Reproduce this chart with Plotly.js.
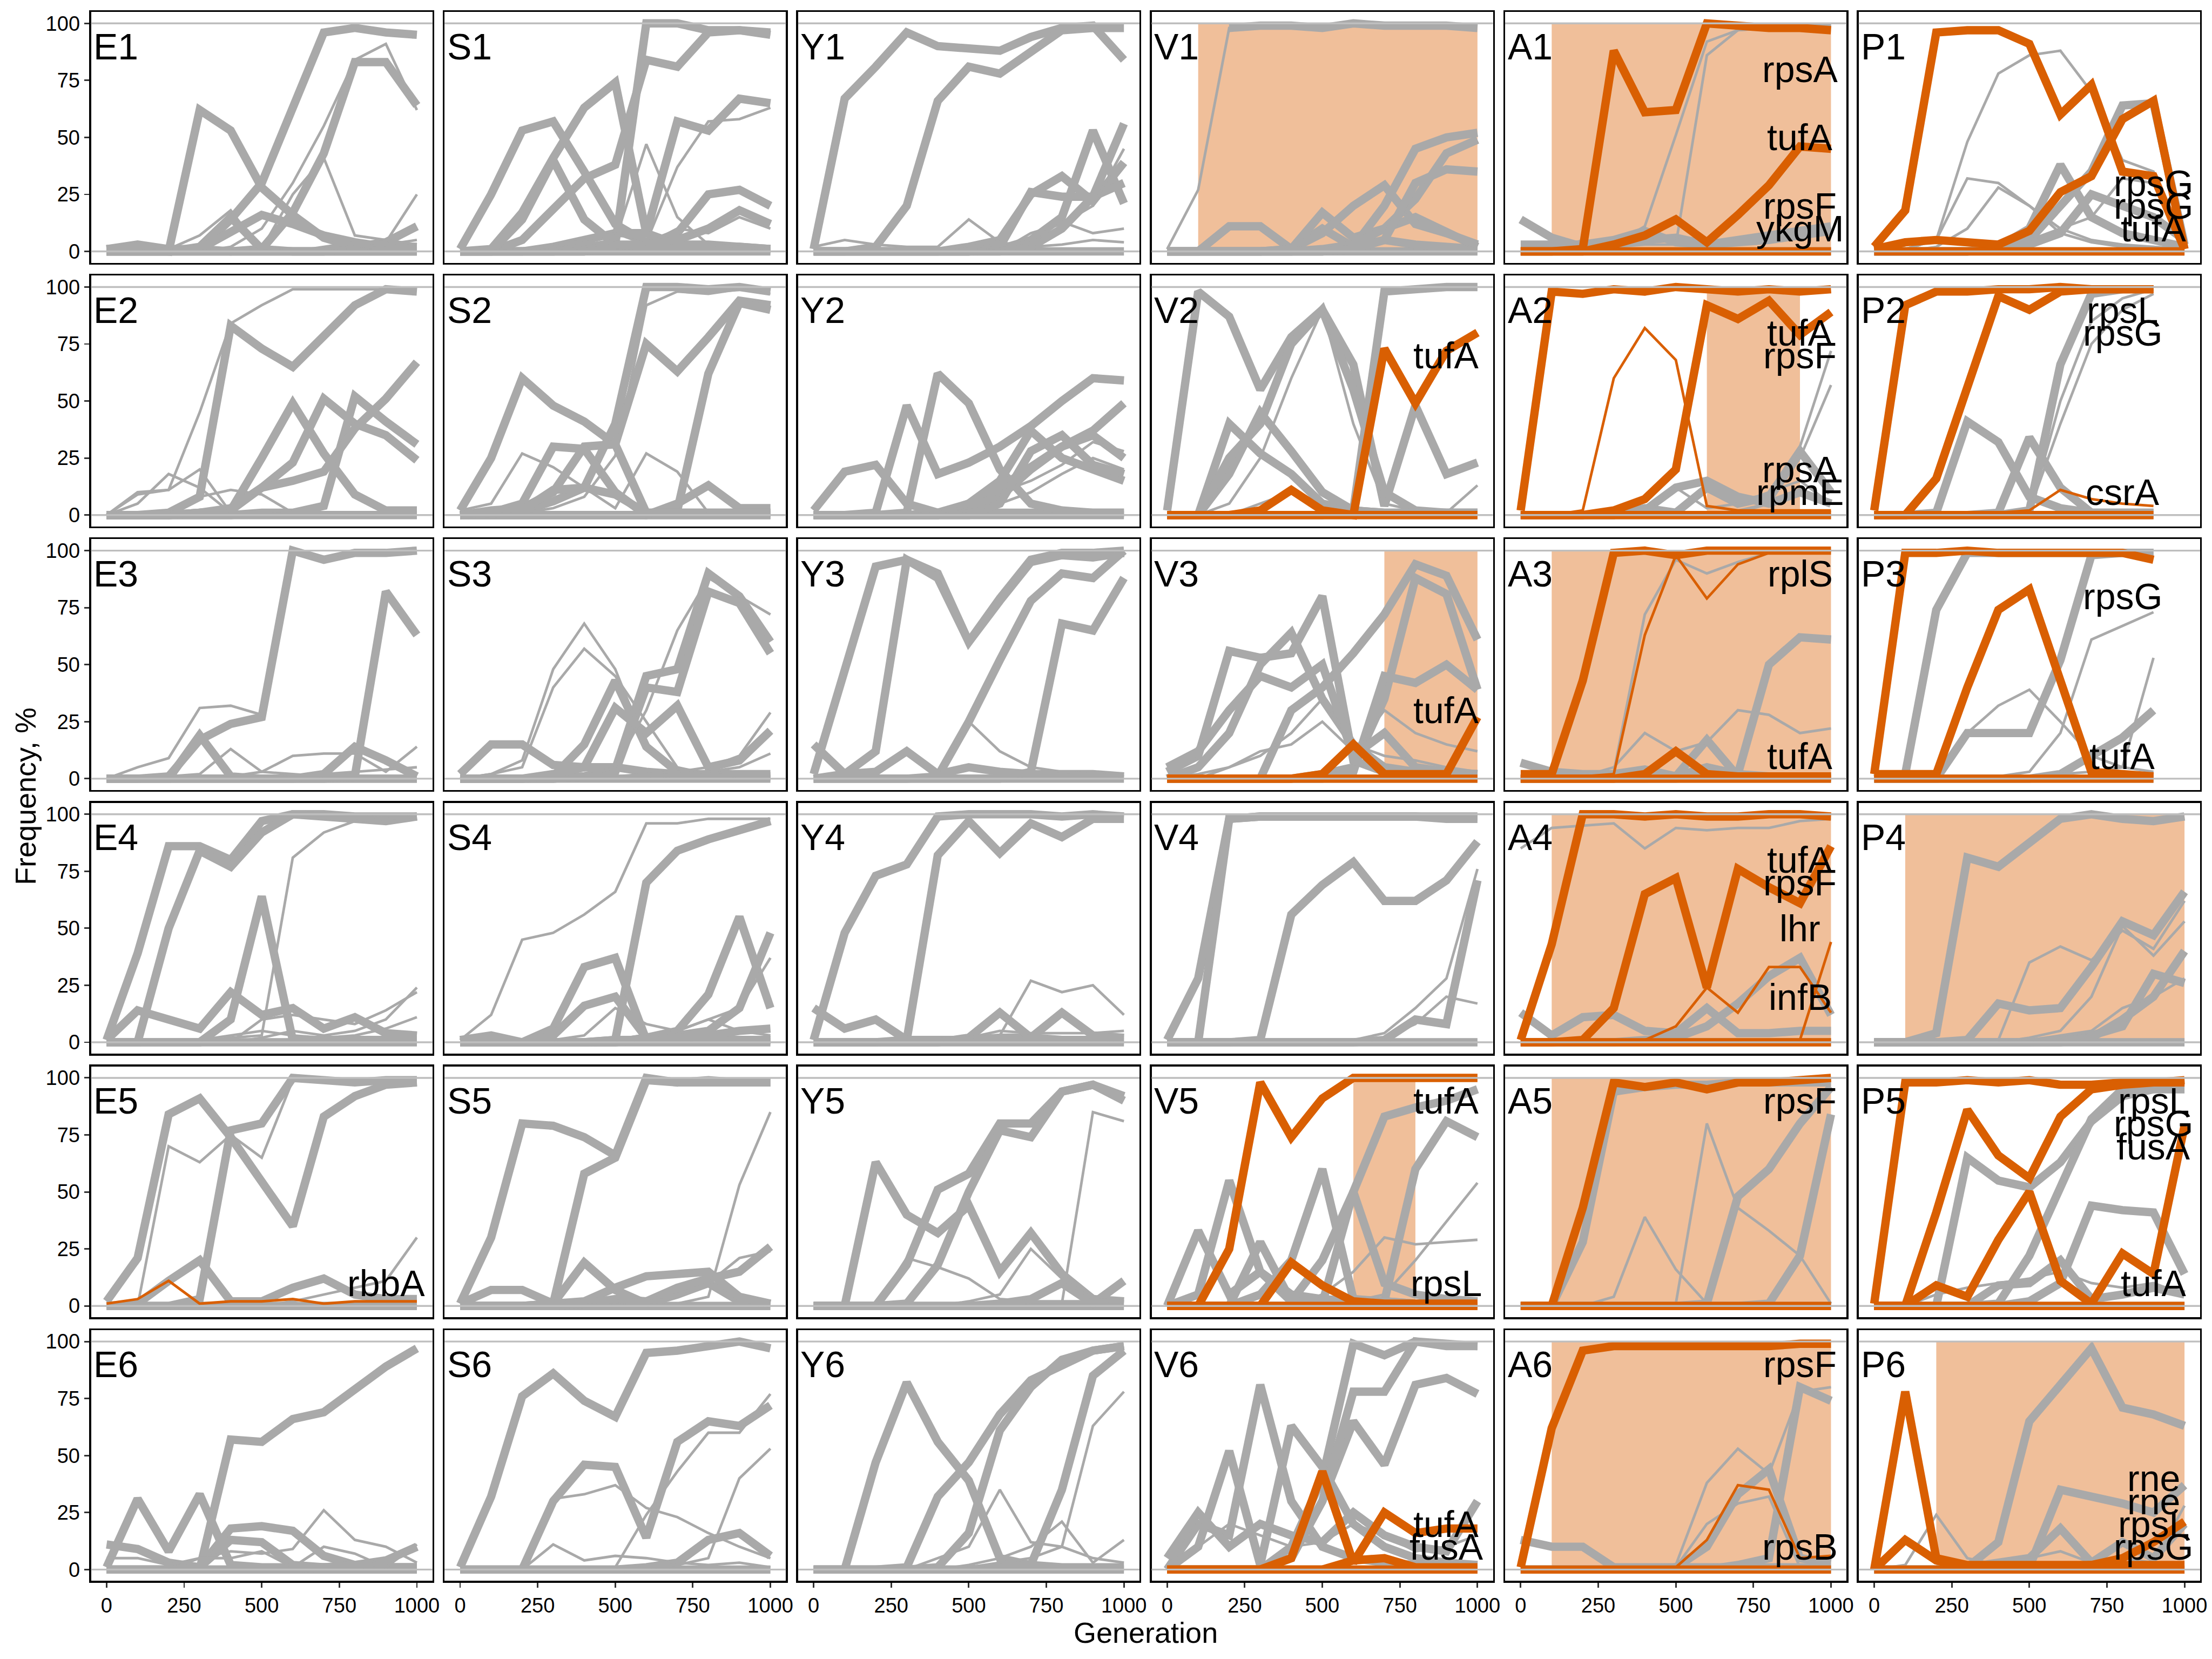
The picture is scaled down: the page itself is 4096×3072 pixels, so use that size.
<!DOCTYPE html>
<html><head><meta charset="utf-8">
<script src="https://cdn.plot.ly/plotly-3.0.1.min.js"></script>
<style>html,body{margin:0;padding:0;background:#fff;}#chart{width:4096px;height:3072px;}</style>
</head><body><div id="chart"></div>
<script>
// ---------- data ----------
const generations = [0,100,200,300,400,500,600,700,800,900,1000];
const columns = ["E","S","Y","V","A","P"];
const rowNumbers = [1,2,3,4,5,6];
const yTicks = [0,25,50,75,100];
const xTicks = [0,250,500,750,1000];
// style codes: G thick grey, g thin grey, O thick orange, o thin orange
const E1 = [["G",[1,3,1,1,0,0,0,0,0,0,0]],["G",[0,0,0,0,0,0,0,0,0,0,0]],["G",[1,2,0,62,53,28,16,6,2,1,1]],["G",[0,0,0,1,14,30,62,96,98,96,95]],["G",[0,0,0,0,0,1,17,43,83,83,64]],["G",[0,0,0,2,15,1,0,0,0,0,0]],["G",[0,0,0,1,8,16,12,7,4,2,2]],["G",[0,0,0,0,0,0,0,0,2,4,11]],["g",[0,0,0,0,2,10,30,55,84,91,62]],["g",[0,0,0,0,0,1,25,41,7,5,3]],["g",[0,0,1,7,18,0,0,0,0,0,0]],["g",[0,0,0,0,0,0,0,2,4,4,25]],["g",[0,0,0,0,0,0,1,1,2,3,5]]];
const S1 = [["G",[0,0,0,0,0,0,0,0,0,0,0]],["G",[1,25,53,57,35,12,4,3,2,2,1]],["G",[0,1,17,41,63,74,8,3,3,2,1]],["G",[0,0,5,18,32,38,84,81,96,97,95]],["G",[0,0,0,0,0,3,100,100,97,97,96]],["G",[0,0,0,2,5,8,8,57,53,67,65]],["G",[0,0,0,0,1,3,3,8,25,27,20]],["G",[0,0,0,0,0,2,3,5,10,18,12]],["G",[0,0,14,40,14,3,2,1,1,1,1]],["g",[0,0,0,0,2,4,4,37,57,58,63]],["g",[0,0,0,1,3,5,47,15,3,2,1]],["g",[0,0,1,2,5,8,3,10,8,15,10]]];
const Y1 = [["G",[0,0,0,0,0,0,0,0,0,0,0]],["G",[1,67,81,96,90,89,88,94,98,99,84]],["G",[0,0,2,20,66,81,78,88,97,98,98]],["G",[0,0,0,0,0,0,0,2,10,24,56]],["G",[0,0,0,0,0,0,1,5,15,53,21]],["G",[0,0,0,0,0,2,5,25,33,22,39]],["G",[0,0,0,0,0,0,2,26,24,24,30]],["g",[2,5,3,2,2,14,4,2,3,5,4]],["g",[0,0,0,0,0,3,1,5,13,8,10]],["g",[0,0,0,0,0,1,0,8,12,20,45]]];
const V1 = [["G",[0,0,0,0,0,0,0,0,0,0,0]],["g",[1,27,98,100,99,97,99,99,99,99,99]],["G",[null,null,98,99,99,98,100,99,99,99,98]],["G",[0,0,11,11,1,10,2,5,3,2,1]],["G",[0,0,0,0,1,17,6,10,15,8,2]],["G",[0,0,0,0,0,0,2,20,45,50,52]],["G",[0,0,0,0,1,8,20,29,12,8,3]],["G",[0,0,0,0,0,1,3,10,23,43,49]],["G",[0,0,0,0,0,0,1,5,30,36,35]]];
const A1 = [["G",[0,0,0,0,0,0,0,0,0,0,0]],["G",[14,6,2,3,5,6,3,5,7,9,11]],["G",[3,3,3,5,9,4,3,4,5,7,9]],["g",[0,0,5,3,11,51,92,97,98,98,99]],["g",[0,0,1,2,3,3,86,97,98,99,99]],["O",[0,0,0,0,0,0,0,0,0,0,0]],["O",[0,0,1,88,61,62,100,99,98,98,97]],["O",[0,0,0,3,7,14,4,16,29,46,45]]];
const P1 = [["G",[0,0,0,0,0,0,0,0,0,0,0]],["G",[0,0,0,0,2,10,38,15,8,5,2]],["G",[0,0,0,0,1,5,20,35,64,65,3]],["G",[0,0,0,0,1,3,8,25,20,15,5]],["g",[0,1,5,48,78,86,88,70,40,35,5]],["g",[0,1,5,32,30,20,10,5,3,2,1]],["g",[0,0,2,10,28,20,8,4,2,2,1]],["g",[0,0,0,0,2,5,10,15,32,30,5]],["O",[0,0,0,0,0,0,0,0,0,0,0]],["O",[2,18,96,97,97,91,60,73,35,33,1]],["O",[1,4,5,4,3,9,26,33,58,66,1]]];
const E2 = [["G",[0,0,0,0,0,0,0,0,0,0,0]],["G",[0,0,1,8,83,73,65,79,92,99,98]],["G",[0,0,0,1,2,25,49,27,9,2,2]],["G",[0,0,0,1,2,12,23,51,40,35,24]],["G",[0,0,0,0,0,1,1,4,52,41,31]],["G",[0,0,0,1,3,12,15,19,38,51,67]],["g",[0,10,11,45,84,92,99,99,99,99,99]],["g",[0,5,18,12,1,1,1,1,1,1,1]],["g",[0,9,11,20,1,1,0,0,0,0,0]],["g",[0,0,0,8,11,9,1,1,1,1,1]]];
const S2 = [["G",[0,0,0,0,0,0,0,0,0,0,0]],["G",[2,25,60,48,41,31,1,1,1,1,1]],["G",[0,1,2,6,12,40,100,100,99,100,98]],["G",[0,2,3,10,30,31,75,63,78,94,92]],["G",[0,0,0,0,0,0,0,2,62,93,90]],["G",[0,1,5,30,29,10,0,0,0,0,0]],["G",[0,0,0,0,0,0,0,5,13,3,3]],["G",[0,1,2,11,12,9,1,1,1,1,1]],["g",[2,5,27,21,12,3,27,19,1,1,1]],["g",[0,0,1,3,8,26,92,98,97,99,97]]];
const Y2 = [["G",[0,0,0,0,0,0,0,0,0,0,0]],["G",[2,19,22,5,1,1,1,1,1,1,1]],["G",[0,0,0,1,62,49,20,5,2,1,1]],["G",[0,0,1,48,18,23,30,39,50,60,59]],["G",[0,0,0,0,0,5,12,21,30,37,49]],["G",[0,0,0,0,1,5,15,37,25,20,15]],["G",[0,0,0,0,0,2,8,20,30,35,25]],["G",[0,0,0,0,0,0,5,28,35,22,18]],["g",[0,0,0,0,1,4,10,15,22,32,28]],["g",[0,0,0,0,0,2,5,10,18,25,20]]];
const V2 = [["G",[0,0,0,0,0,0,0,0,0,0,0]],["G",[2,98,87,55,78,90,66,4,48,18,23]],["G",[0,0,0,0,0,0,2,98,99,100,100]],["G",[0,0,40,27,18,5,2,1,1,1,1]],["G",[0,0,18,45,28,10,2,1,1,1,1]],["G",[0,0,25,40,75,90,55,10,2,1,1]],["g",[0,0,5,25,60,90,40,5,2,1,1]],["g",[0,0,0,5,10,5,3,2,2,1,13]],["O",[0,0,0,0,0,0,0,0,0,0,0]],["O",[0,0,0,2,11,2,0,73,49,72,80]]];
const A2 = [["G",[0,0,0,0,0,0,0,0,0,0,0]],["G",[0,0,0,0,3,1,12,5,8,28,10]],["G",[0,0,0,0,2,12,15,8,5,10,5]],["g",[0,0,0,0,0,0,0,2,5,30,72]],["g",[0,0,0,0,0,0,0,1,5,25,57]],["g",[0,0,0,0,0,12,3,5,10,15,5]],["O",[0,0,0,0,0,0,0,0,0,0,0]],["O",[2,98,97,99,98,100,99,98,99,98,99]],["O",[0,0,0,2,7,20,92,86,94,79,89]],["o",[0,0,2,60,82,68,4,2,2,2,2]]];
const P2 = [["G",[0,0,0,0,0,0,0,0,0,0,null]],["G",[0,0,1,41,32,8,3,1,1,1,null]],["G",[0,0,0,0,1,34,12,1,1,1,null]],["G",[0,0,0,0,0,2,66,97,99,99,null]],["g",[0,0,0,0,0,1,50,85,95,99,null]],["g",[0,0,0,0,0,2,40,75,90,97,null]],["O",[0,0,0,0,0,0,0,0,0,0,null]],["O",[2,92,98,98,99,99,100,99,99,99,null]],["O",[0,0,16,57,96,90,98,99,99,99,null]],["o",[0,0,0,0,1,2,11,7,5,4,null]]];
const E3 = [["G",[0,0,0,0,0,0,0,0,0,0,0]],["G",[0,0,1,17,24,27,100,96,99,99,100]],["G",[0,0,0,19,1,0,0,0,0,0,0]],["G",[0,0,0,0,0,0,0,0,1,82,63]],["G",[0,0,0,0,0,0,0,2,14,8,1]],["g",[0,5,9,31,32,28,100,97,99,99,99]],["g",[0,0,1,2,13,3,2,1,1,1,1]],["g",[0,0,0,0,1,3,10,11,11,3,14]],["g",[0,0,0,0,0,0,1,2,3,4,5]]];
const S3 = [["G",[0,0,0,0,0,0,0,0,0,0,0]],["G",[0,0,0,0,1,4,45,48,90,80,60]],["G",[0,0,0,0,1,3,40,38,82,77,55]],["G",[0,0,0,1,15,43,14,3,1,1,1]],["G",[0,0,0,2,5,31,20,32,5,8,21]],["G",[2,15,15,6,5,5,3,2,2,2,2]],["g",[0,2,8,48,68,48,14,3,1,1,1]],["g",[0,2,5,40,57,45,25,5,2,1,1]],["g",[0,0,0,0,1,5,30,65,88,80,72]],["g",[0,0,0,0,0,1,2,3,5,10,29]],["g",[0,0,0,0,0,0,1,2,3,5,11]]];
const Y3 = [["G",[0,0,0,0,0,0,0,0,0,0,0]],["G",[2,47,93,96,90,60,79,96,99,99,100]],["G",[0,2,12,96,88,60,78,95,98,97,99]],["G",[0,0,0,0,1,25,52,78,90,88,100]],["G",[0,0,0,0,0,0,0,3,68,65,88]],["G",[15,2,3,12,2,5,3,2,2,2,1]],["g",[0,0,0,0,0,25,12,5,3,2,1]]];
const V3 = [["G",[0,0,0,0,0,0,0,0,0,0,0]],["G",[0,0,0,0,30,40,55,72,94,89,61]],["G",[0,0,0,0,0,2,5,35,88,81,39]],["G",[0,0,0,0,0,0,3,45,42,50,39]],["G",[3,10,56,53,55,80,8,3,2,2,2]],["G",[0,5,20,50,64,35,15,5,3,2,2]],["G",[5,12,30,45,40,50,10,20,5,3,2]],["g",[0,2,5,10,20,35,15,10,8,5,3]],["g",[0,0,5,12,15,25,12,30,20,15,12]],["O",[0,0,0,0,0,0,0,0,0,0,0]],["O",[0,0,0,0,0,2,15,2,2,2,27]]];
const A3 = [["G",[0,0,0,0,0,0,0,0,0,0,0]],["G",[7,3,2,2,4,1,5,2,1,1,1]],["G",[0,0,0,0,0,1,17,1,1,1,1]],["G",[0,0,0,0,0,0,1,2,50,62,61]],["g",[0,0,1,3,72,96,90,95,99,99,100]],["g",[0,0,1,5,20,12,16,30,28,20,22]],["O",[0,0,0,0,0,0,0,0,0,0,0]],["O",[2,2,43,99,100,98,100,100,100,100,100]],["o",[0,0,1,2,63,98,79,94,99,99,100]],["O",[0,0,0,0,2,12,2,1,1,1,1]]];
const P3 = [["G",[0,0,0,0,0,0,0,0,0,0,null]],["G",[0,2,74,99,99,99,99,99,99,99,null]],["G",[0,0,0,20,20,20,52,98,99,99,null]],["G",[0,0,0,0,0,0,2,10,18,30,null]],["g",[0,0,0,0,1,3,20,61,67,73,null]],["g",[0,0,2,20,32,39,25,10,5,3,null]],["g",[0,0,0,0,0,1,2,3,5,53,null]],["O",[0,0,0,0,0,0,0,0,0,0,null]],["O",[2,99,99,100,99,99,99,99,99,96,null]],["O",[2,2,2,40,74,83,43,3,2,1,null]]];
const E4 = [["G",[0,0,0,0,0,0,0,0,0,0,0]],["G",[1,39,86,86,80,97,100,100,99,99,99]],["G",[0,0,50,84,77,92,100,99,98,97,99]],["G",[0,0,0,0,10,64,1,1,1,1,1]],["G",[1,14,10,6,22,12,15,6,11,4,3]],["g",[0,0,0,0,2,3,81,92,97,98,99]],["g",[0,0,0,0,0,2,5,3,5,10,24]],["g",[0,0,0,0,0,10,12,10,8,14,22]],["g",[0,0,0,1,3,5,3,2,3,6,11]]];
const S4 = [["G",[0,0,0,0,0,0,0,0,0,0,0]],["G",[0,0,0,0,0,1,70,84,89,93,97]],["G",[1,3,0,6,33,37,1,1,1,1,1]],["G",[0,0,0,3,16,20,2,1,1,1,1]],["G",[0,0,0,0,0,0,2,5,21,55,15]],["G",[0,0,0,0,0,0,2,3,5,15,48]],["G",[0,0,0,0,0,1,1,2,3,5,6]],["g",[1,12,45,48,56,66,96,96,98,98,98]],["g",[0,0,0,0,0,0,2,5,10,15,37]],["g",[0,0,0,1,3,15,8,5,10,5,3]]];
const Y4 = [["G",[0,0,0,0,0,0,0,0,0,0,0]],["G",[1,48,73,78,99,100,100,100,99,100,99]],["G",[0,0,0,1,82,97,83,96,90,98,98]],["G",[15,6,10,1,1,1,2,2,1,1,1]],["G",[0,0,0,0,0,2,13,2,13,3,2]],["g",[0,0,0,0,1,2,3,27,22,25,12]],["g",[0,0,0,1,1,2,5,4,4,4,5]]];
const V4 = [["G",[0,0,0,0,0,0,0,0,0,0,0]],["G",[1,28,98,99,99,99,99,99,99,99,99]],["G",[0,0,98,99,99,99,99,99,99,98,98]],["G",[0,0,0,1,56,69,79,62,62,71,88]],["G",[0,0,0,0,0,0,0,1,10,8,71]],["g",[0,0,0,0,0,0,1,4,15,28,76]],["g",[0,0,0,0,0,0,0,2,8,20,17]]];
const A4 = [["G",[0,0,0,0,0,0,0,0,0,0,0]],["G",[13,3,11,12,5,4,15,4,4,5,5]],["G",[0,0,0,0,1,2,7,17,29,37,12]],["g",[85,94,95,96,85,94,93,94,94,97,98]],["O",[0,0,0,0,0,0,0,0,0,0,0]],["O",[1,43,100,100,99,100,99,99,100,100,99]],["O",[0,0,1,15,65,72,24,76,68,61,86]],["o",[0,0,0,0,1,7,24,13,33,33,13]],["o",[0,0,0,0,0,0,0,0,1,1,44]]];
const P4 = [["G",[0,0,0,0,0,0,0,0,0,0,0]],["G",[0,0,4,81,77,87,98,100,98,97,99]],["G",[0,0,0,1,17,14,15,33,53,47,66]],["G",[0,0,0,0,0,0,1,3,7,30,26]],["G",[0,0,0,0,0,0,0,2,10,20,40]],["g",[0,0,0,0,1,35,42,36,49,41,62]],["g",[0,0,0,0,0,2,5,20,51,38,53]],["g",[0,0,0,0,0,1,3,5,15,20,28]]];
const E5 = [["G",[0,0,0,0,0,0,0,0,0,0,0]],["G",[2,21,84,91,74,54,35,83,92,97,98]],["G",[0,0,0,3,77,80,100,99,98,99,99]],["G",[0,1,11,20,2,2,8,12,5,3,3]],["g",[0,0,70,63,75,65,99,99,99,99,99]],["g",[0,0,0,0,0,0,2,5,8,11,30]],["o",[1,3,11,1,2,2,3,1,2,2,2]]];
const S5 = [["G",[0,0,0,0,0,0,0,0,0,0,0]],["G",[1,30,80,79,74,66,100,98,99,98,98]],["G",[0,0,0,1,58,65,99,98,98,98,98]],["G",[1,7,7,1,19,7,1,5,10,2,1]],["G",[0,0,0,1,2,8,13,14,15,4,1]],["G",[0,0,0,0,1,3,2,8,12,15,26]],["g",[0,0,0,0,0,0,0,1,4,53,85]],["g",[0,0,0,0,0,2,3,5,10,21,24]]];
const Y5 = [["G",[0,0,0,0,0,0,0,0,0,0,0]],["G",[0,0,63,40,32,44,15,32,14,3,2]],["G",[0,0,0,18,51,58,80,80,94,97,90]],["G",[0,0,0,1,18,50,77,74,94,97,92]],["G",[0,0,0,0,0,0,1,3,10,1,11]],["g",[0,0,0,0,0,0,0,0,1,85,81]],["g",[0,0,0,21,17,12,3,2,2,2,2]],["g",[0,0,0,0,0,2,5,25,12,3,2]]];
const V5 = [["G",[0,0,0,0,0,0,0,0,0,0,0]],["G",[0,0,0,0,0,1,50,83,87,90,95]],["G",[0,0,0,5,20,60,3,2,1,1,1]],["G",[0,33,5,15,2,1,1,1,1,1,1]],["G",[0,5,55,15,5,3,2,2,1,1,1]],["G",[0,0,0,0,0,0,1,2,60,81,74]],["G",[0,0,0,28,2,20,50,10,5,3,2]],["g",[0,0,0,0,0,5,15,30,27,28,29]],["g",[0,0,0,0,0,0,2,5,20,37,54]],["O",[0,0,0,0,0,0,0,0,0,0,0]],["O",[0,0,25,98,74,91,100,100,100,100,100]],["O",[0,0,0,0,19,9,2,1,1,1,1]]];
const A5 = [["G",[0,0,0,0,0,0,0,0,0,0,0]],["G",[0,0,28,94,96,97,97,98,98,98,98]],["G",[0,0,0,0,0,0,1,48,60,80,96]],["G",[0,0,0,0,0,0,0,0,1,22,84]],["g",[0,0,0,0,0,1,80,43,33,22,1]],["g",[0,0,0,4,39,16,1,1,1,1,1]],["O",[0,0,0,0,0,0,0,0,0,0,0]],["O",[0,0,43,98,96,98,95,98,98,99,100]]];
const P5 = [["G",[0,0,0,0,0,0,0,0,0,0,0]],["G",[0,0,0,65,55,52,63,81,92,95,95]],["G",[0,0,0,0,0,2,10,44,42,41,14]],["G",[0,0,0,0,1,22,52,82,95,98,98]],["G",[0,0,0,0,9,10,20,3,5,8,5]],["g",[0,0,5,8,10,12,15,10,8,10,5]],["O",[0,0,0,0,0,0,0,0,0,0,0]],["O",[1,98,98,99,98,99,97,97,98,98,99]],["O",[0,0,41,86,66,56,83,95,97,98,98]],["O",[0,0,9,4,29,50,11,1,23,14,79]]];
const E6 = [["G",[0,0,0,0,0,0,0,0,0,0,0]],["G",[0,0,0,0,57,56,66,69,79,89,97]],["G",[1,31,8,33,2,1,1,1,1,1,1]],["G",[11,9,3,1,18,19,17,6,2,1,1]],["G",[0,0,0,1,13,12,2,1,1,1,1]],["G",[0,0,0,0,0,0,0,1,2,4,10]],["g",[5,5,2,5,8,7,9,26,13,10,3]],["g",[0,0,0,5,5,8,1,10,7,1,11]]];
const S6 = [["G",[0,0,0,0,0,0,0,0,0,0,0]],["G",[1,32,76,86,74,67,95,96,98,100,97]],["G",[0,0,0,30,46,45,14,56,65,63,72]],["G",[0,0,0,0,0,0,1,3,13,16,6]],["g",[0,0,0,31,33,37,27,23,16,10,5]],["g",[0,0,0,0,0,1,24,43,60,60,77]],["g",[0,0,0,0,0,0,1,2,5,40,53]],["g",[0,0,0,11,4,6,5,3,2,3,1]]];
const Y6 = [["G",[0,0,0,0,0,0,0,0,0,0,0]],["G",[0,0,47,82,56,39,5,2,1,1,1]],["G",[0,0,0,1,32,47,68,83,90,96,98]],["G",[0,0,0,0,1,16,61,80,92,96,98]],["G",[0,0,0,0,0,0,1,2,35,85,96]],["g",[0,0,0,0,0,1,3,5,10,63,78]],["g",[0,0,0,0,5,10,35,12,10,5,3]],["g",[0,0,0,0,0,2,5,10,21,3,13]]];
const V6 = [["G",[0,0,0,0,0,0,0,0,0,0,0]],["G",[0,0,0,0,10,40,99,94,100,99,98]],["G",[0,0,0,0,5,30,65,46,81,84,77]],["G",[0,0,0,0,5,30,78,78,100,98,98]],["G",[0,20,15,81,30,10,5,3,2,2,2]],["G",[0,10,52,2,63,45,20,10,5,3,2]],["G",[5,25,10,20,15,12,25,15,10,8,30]],["g",[0,10,20,15,10,12,20,15,8,10,15]],["O",[0,0,0,0,0,0,0,0,0,0,0]],["O",[0,0,0,0,5,43,3,25,16,18,18]],["O",[0,0,0,0,0,0,4,5,1,1,1]]];
const A6 = [["G",[0,0,0,0,0,0,0,0,0,0,0]],["G",[13,10,10,1,1,1,1,1,1,1,1]],["G",[0,0,0,0,0,0,0,2,5,80,74]],["G",[0,0,0,0,0,1,10,33,44,5,3]],["g",[0,0,0,0,0,2,38,53,42,78,80]],["g",[0,0,0,0,0,1,20,29,32,1,1]],["O",[0,0,0,0,0,0,0,0,0,0,0]],["O",[1,62,96,98,98,98,98,98,98,99,99]],["o",[0,0,0,0,0,1,13,37,35,5,6]]];
const P6 = [["G",[0,0,0,0,0,0,0,0,0,0,0]],["G",[0,0,0,1,12,65,81,97,71,68,63]],["G",[0,0,0,0,0,1,35,32,29,25,37]],["G",[0,0,0,1,3,5,18,3,12,5,20]],["g",[0,2,24,5,2,5,8,3,5,3,28]],["O",[0,0,0,0,0,0,0,0,0,0,0]],["O",[0,78,5,2,2,2,2,2,2,2,2]],["O",[0,13,4,1,1,1,1,2,5,12,21]]];

const shadePanels = ["V1","A1","A2","V3","A3","A4","P4","V5","A5","A6","P6"];
const shadeFrom   = [100,100,600,700,100,100,100,600,100,100,200];
const shadeTo     = [1000,1000,900,1000,1000,1000,1000,800,1000,1000,1000];

const labelPanels = ["A1","A1","A1","A1","P1","P1","P1","V2","A2","A2","A2","A2","P2","P2","P2","V3","A3","A3","P3","P3","A4","A4","A4","A4","E5","V5","V5","A5","P5","P5","P5","P5","V6","V6","A6","A6","P6","P6","P6","P6"];
const labelTexts  = ["rpsA","tufA","rpsF","ykgM","rpsG","rpsG","tufA","tufA","tufA","rpsF","rpsA","rpmE","rpsL","rpsG","csrA","tufA","rplS","tufA","rpsG","tufA","tufA","rpsF","lhr","infB","rbbA","tufA","rpsL","rpsF","rpsL","rpsG","fusA","tufA","tufA","fusA","rpsF","rpsB","rne","rne","rpsL","rpsG"];
const labelX      = [900,900,900,900,900,900,900,900,900,900,900,900,800,800,800,900,900,900,800,800,900,900,900,900,900,900,900,900,900,900,900,900,900,900,900,900,900,900,900,900];
const labelY      = [80,50,20,10,30,20,10,70,80,70,20,10,90,80,10,30,90,10,80,10,80,70,50,20,10,90,10,90,90,80,70,10,20,10,90,10,40,30,20,10];

// ---------- build ----------
const panelData = {E1,S1,Y1,V1,A1,P1,E2,S2,Y2,V2,A2,P2,E3,S3,Y3,V3,A3,P3,E4,S4,Y4,V4,A4,P4,E5,S5,Y5,V5,A5,P5,E6,S6,Y6,V6,A6,P6};
const W = 4251, H = 3188, S = 4096/4251;
const left0 = 175, colStep = 679.4, pw = 656, top0 = 23, rowStep = 506.6, ph = 482;
const GREY = "#A9A9A9", ORANGE = "#D95F02", SHADE = "#F0BF9A", HLINE = "#BEBEBE";
const FONT = "Liberation Sans, Arial, Helvetica, sans-serif";
const thick = 16*S, thin = 5*S;

const traces = [], shapes = [], annotations = [];
const layout = {
  width: 4096, height: 3072, margin: {l:0,r:0,t:0,b:0},
  paper_bgcolor: "#fff", plot_bgcolor: "rgba(0,0,0,0)", showlegend: false,
  font: {family: FONT, color: "#000"}
};
const idxOf = {};
rowNumbers.forEach((rn, r) => {
  columns.forEach((cl, c) => {
    const n = r*6 + c + 1;
    const name = cl + rn;
    idxOf[name] = n;
    const xa = n === 1 ? "xaxis" : "xaxis" + n;
    const ya = n === 1 ? "yaxis" : "yaxis" + n;
    const xr = n === 1 ? "x" : "x" + n;
    const yr = n === 1 ? "y" : "y" + n;
    const l = left0 + c*colStep, t = top0 + r*rowStep;
    layout[xa] = {
      domain: [l/W, (l+pw)/W], range: [-50,1050], anchor: yr,
      showline: true, mirror: true, linecolor: "#000", linewidth: 3.4,
      showgrid: false, zeroline: false, fixedrange: true,
      tickmode: "array", tickvals: xTicks, ticktext: xTicks.map(String),
      ticks: r === 5 ? "outside" : "", showticklabels: r === 5,
      ticklen: 9.6, tickwidth: 2.9, tickcolor: "#333333",
      tickfont: {family: FONT, size: 38, color: "#000"}
    };
    layout[ya] = {
      domain: [1 - (t+ph)/H, 1 - t/H], range: [-5,105], anchor: xr,
      showline: true, mirror: true, linecolor: "#000", linewidth: 3.4,
      showgrid: false, zeroline: false, fixedrange: true,
      tickmode: "array", tickvals: yTicks, ticktext: yTicks.map(String),
      ticks: c === 0 ? "outside" : "", showticklabels: c === 0,
      ticklen: 9.6, tickwidth: 2.9, tickcolor: "#333333",
      tickfont: {family: FONT, size: 38, color: "#000"}
    };
    // lines: grey first, then orange
    const series = panelData[name];
    const order = series.filter(s => s[0] === "g" || s[0] === "G").concat(series.filter(s => s[0] === "o" || s[0] === "O"));
    order.forEach(s => {
      traces.push({
        type: "scatter", mode: "lines", x: generations, y: s[1],
        xaxis: xr, yaxis: yr, hoverinfo: "skip", connectgaps: false,
        line: {color: (s[0] === "g" || s[0] === "G") ? GREY : ORANGE,
               width: (s[0] === "G" || s[0] === "O") ? thick : thin}
      });
    });
    // reference lines at 0 and 100
    [0,100].forEach(v => shapes.push({
      type: "line", xref: xr + " domain", yref: yr, x0: 0, x1: 1, y0: v, y1: v,
      line: {color: HLINE, width: 3.4}, layer: "above"
    }));
    // panel label
    annotations.push({
      xref: xr, yref: yr, x: -44, y: 90, xanchor: "left", yanchor: "middle",
      text: name, showarrow: false, borderpad: 0,
      font: {family: FONT, size: 68, color: "#000"}
    });
  });
});
shadePanels.forEach((p, i) => {
  const n = idxOf[p];
  const xr = n === 1 ? "x" : "x" + n, yr = n === 1 ? "y" : "y" + n;
  shapes.push({type: "rect", xref: xr, yref: yr, x0: shadeFrom[i], x1: shadeTo[i], y0: 0, y1: 100,
    fillcolor: SHADE, line: {width: 0}, layer: "below"});
});
labelPanels.forEach((p, i) => {
  const n = idxOf[p];
  const xr = n === 1 ? "x" : "x" + n, yr = n === 1 ? "y" : "y" + n;
  annotations.push({xref: xr, yref: yr, x: labelX[i], y: labelY[i], xanchor: "center", yanchor: "middle",
    text: labelTexts[i], showarrow: false, borderpad: 0, font: {family: FONT, size: 68, color: "#000"}});
});
annotations.push({xref: "paper", yref: "paper", x: 2201.5/W, y: 1 - 3137/H, xanchor: "center", yanchor: "middle",
  text: "Generation", showarrow: false, font: {family: FONT, size: 54, color: "#000"}});
annotations.push({xref: "paper", yref: "paper", x: 49/W, y: 1 - 1530.5/H, xanchor: "center", yanchor: "middle",
  text: "Frequency, %", textangle: -90, showarrow: false, font: {family: FONT, size: 54, color: "#000"}});
layout.shapes = shapes;
layout.annotations = annotations;
Plotly.newPlot("chart", traces, layout, {staticPlot: true, displayModeBar: false});
</script>
</body></html>
